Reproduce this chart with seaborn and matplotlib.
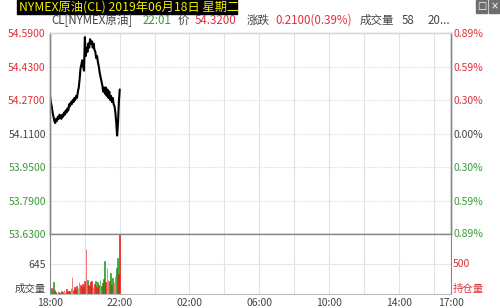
import numpy as np
import pandas as pd
import matplotlib
matplotlib.use("Agg")
import matplotlib.pyplot as plt
import seaborn as sns
from matplotlib.patches import Rectangle

sns.set_style("white")
plt.rcParams['font.family'] = ['Noto Sans CJK SC', 'DejaVu Sans']

# ---------------- data ----------------
title = "NYMEX原油(CL) 2019年06月18日 星期二"
price_minutes = list(range(0, 241, 3))  # minutes after 18:00
price_values = [
    54.29, 54.26, 54.24, 54.21, 54.19, 54.17, 54.16, 54.18, 54.17, 54.19,
    54.18, 54.20, 54.19, 54.18, 54.20, 54.19, 54.21, 54.20, 54.22, 54.21,
    54.23, 54.22, 54.25, 54.24, 54.26, 54.25, 54.27, 54.26, 54.28, 54.27,
    54.29, 54.28, 54.31, 54.33, 54.37, 54.42, 54.44, 54.46, 54.43, 54.41,
    54.57, 54.48, 54.52, 54.50, 54.54, 54.52, 54.56, 54.54, 54.55, 54.52,
    54.54, 54.51, 54.50, 54.47, 54.48, 54.45, 54.43, 54.40, 54.38, 54.36,
    54.34, 54.31, 54.33, 54.30, 54.33, 54.29, 54.32, 54.28, 54.31, 54.27,
    54.29, 54.26, 54.28, 54.25, 54.24, 54.21, 54.16, 54.10, 54.16, 54.26,
    54.32,
]
vol_minutes = list(range(0, 241, 4))
vol_values = [
    690, 120, 60, 265, 80, 40, 30, 50, 20, 30,
    60, 40, 90, 40, 110, 50, 70, 60, 130, 372,
    80, 150, 90, 180, 120, 260, 200, 140, 220, 150,
    280, 967, 300, 200, 180, 250, 280, 160, 210, 290,
    150, 250, 190, 300, 170, 240, 320, 709, 260, 559,
    300, 280, 450, 200, 340, 260, 380, 560, 774, 420,
    1290,
]
vol_colors = [
    'r', 'r', 'g', 'g', 'g', 'r', 'g', 'r', 'g', 'r',
    'g', 'r', 'r', 'g', 'r', 'g', 'r', 'r', 'r', 'r',
    'g', 'r', 'r', 'r', 'g', 'r', 'r', 'g', 'r', 'g',
    'r', 'r', 'g', 'r', 'g', 'r', 'r', 'g', 'r', 'g',
    'r', 'g', 'r', 'g', 'r', 'g', 'r', 'g', 'r', 'g',
    'r', 'r', 'g', 'r', 'g', 'r', 'r', 'g', 'g', 'r',
    'r',
]
left_ticks = [54.59, 54.43, 54.27, 54.11, 53.95, 53.79, 53.63]
left_labels = ["54.5900", "54.4300", "54.2700", "54.1100", "53.9500", "53.7900", "53.6300"]
right_labels = ["0.89%", "0.59%", "0.30%", "0.00%", "0.30%", "0.59%", "0.89%"]
tick_kind = ['up', 'up', 'up', 'flat', 'down', 'down', 'down']
time_ticks = [0, 240, 480, 720, 960, 1200, 1380]
time_labels = ["18:00", "22:00", "02:00", "06:00", "10:00", "14:00", "17:00"]

RED = '#e0303a'
GREEN = '#3a9a3a'
GRAY = '#444444'
kind_color = {'up': RED, 'flat': GRAY, 'down': GREEN}
bar_color = {'r': '#ee1111', 'g': '#119911'}

# ---------------- figure ----------------
fig = plt.figure(figsize=(5.0, 3.08), dpi=100)
L, R = 50 / 500, 451 / 500
ax = fig.add_axes([L, 1 - 234 / 308, R - L, (234 - 33) / 308])
axv = fig.add_axes([L, 1 - 294 / 308, R - L, (294 - 234) / 308])

df = pd.DataFrame({'m': price_minutes, 'p': price_values})
sns.lineplot(data=df, x='m', y='p', ax=ax, color='black', linewidth=1.5)

ax.set_xlim(0, 1380)
ax.set_ylim(53.63, 54.59)
ax.set_xlabel('')
ax.set_ylabel('')
ax.set_xticks([])
ax.set_yticks(left_ticks)
ax.set_yticklabels(left_labels)
for lab, k in zip(ax.get_yticklabels(), tick_kind):
    lab.set_color(kind_color[k])
ax.tick_params(axis='y', length=0, pad=3, labelsize=7.5)

ax2 = ax.twinx()
ax2.set_ylim(53.63, 54.59)
ax2.set_yticks(left_ticks[:-1])
ax2.set_yticklabels(right_labels[:-1])
for lab, k in zip(ax2.get_yticklabels(), tick_kind[:-1]):
    lab.set_color(kind_color[k])
ax2.tick_params(axis='y', length=0, pad=2, labelsize=7.5)

for y in left_ticks[1:-1]:
    ax.axhline(y, color='#dddddd', lw=0.8, ls=(0, (1, 1)), zorder=0)
for x in range(120, 1380, 120):
    ax.axvline(x, color='#e2e2e2', lw=0.8, zorder=0)
    axv.axvline(x, color='#e2e2e2', lw=0.8, zorder=0)

for a in (ax, ax2):
    a.spines['top'].set_color('#d8d8d8')
    a.spines['left'].set_color('#888888')
    a.spines['right'].set_color('#888888')
    a.spines['bottom'].set_color('#888888')
    for s in a.spines.values():
        s.set_linewidth(1.0)

# volume
cols = [bar_color[c] for c in vol_colors]
axv.bar(vol_minutes, vol_values, width=2.6, color=cols, edgecolor=cols,
        linewidth=0.4, align='center', zorder=2)
axv.set_xlim(0, 1380)
axv.set_ylim(0, 1290)
axv.axhline(645, color='#e6e6e6', lw=0.8, zorder=0)
axv.set_yticks([645])
axv.set_yticklabels(["645"])
axv.tick_params(axis='y', length=0, pad=3, labelsize=7.5, labelcolor=GRAY)
axv.set_xticks(time_ticks)
axv.set_xticklabels(time_labels)
axv.tick_params(axis='x', length=0, pad=3, labelsize=7.5, labelcolor=GRAY)
axv.spines['top'].set_visible(False)
axv.spines['bottom'].set_color('#bbbbbb')
axv.spines['left'].set_color('#888888')
axv.spines['right'].set_color('#888888')

fig.text(46 / 500, 1 - 289 / 308, "成交量", ha='right', va='center', fontsize=7.5, color=GRAY)
fig.text(453 / 500, 1 - 264 / 308, "500", ha='left', va='center', fontsize=7.5, color=RED)
fig.text(453 / 500, 1 - 289 / 308, "持仓量", ha='left', va='center', fontsize=7.5, color=RED)
fig.text(453 / 500, 1 - 234 / 308, right_labels[-1], ha='left', va='center', fontsize=7.5, color=GREEN)

# title box
fig.patches.append(Rectangle((17 / 500, 1 - 14 / 308), 220 / 500, 14 / 308,
                             transform=fig.transFigure, color='black', zorder=0))
fig.text(19 / 500, 1 - 7 / 308, title, ha='left', va='center', fontsize=8.8, color='#f0f000')

# window buttons
for x0, g in ((476, "□"), (489, "×")):
    fig.patches.append(Rectangle((x0 / 500, 1 - 13 / 308), 11 / 500, 13 / 308,
                                 transform=fig.transFigure, color='#6e6e6e'))
    fig.text((x0 + 5.5) / 500, 1 - 6.5 / 308, g, ha='center', va='center', fontsize=7,
             color='white', family=['DejaVu Sans'])

# header line
hy = 1 - 20 / 308
hdr = [(51, "CL[NYMEX原油]", GRAY), (143, "22:01", GREEN), (178, "价", GRAY),
       (195, "54.3200", RED), (247, "涨跌", GRAY), (275, "0.2100(0.39%)", RED),
       (360, "成交量", GRAY), (402, "58", GRAY), (428, "20...", GRAY)]
for x, t, c in hdr:
    fig.text(x / 500, hy, t, ha='left', va='center', fontsize=8.3, color=c)

fig.savefig("out.png", dpi=100)
